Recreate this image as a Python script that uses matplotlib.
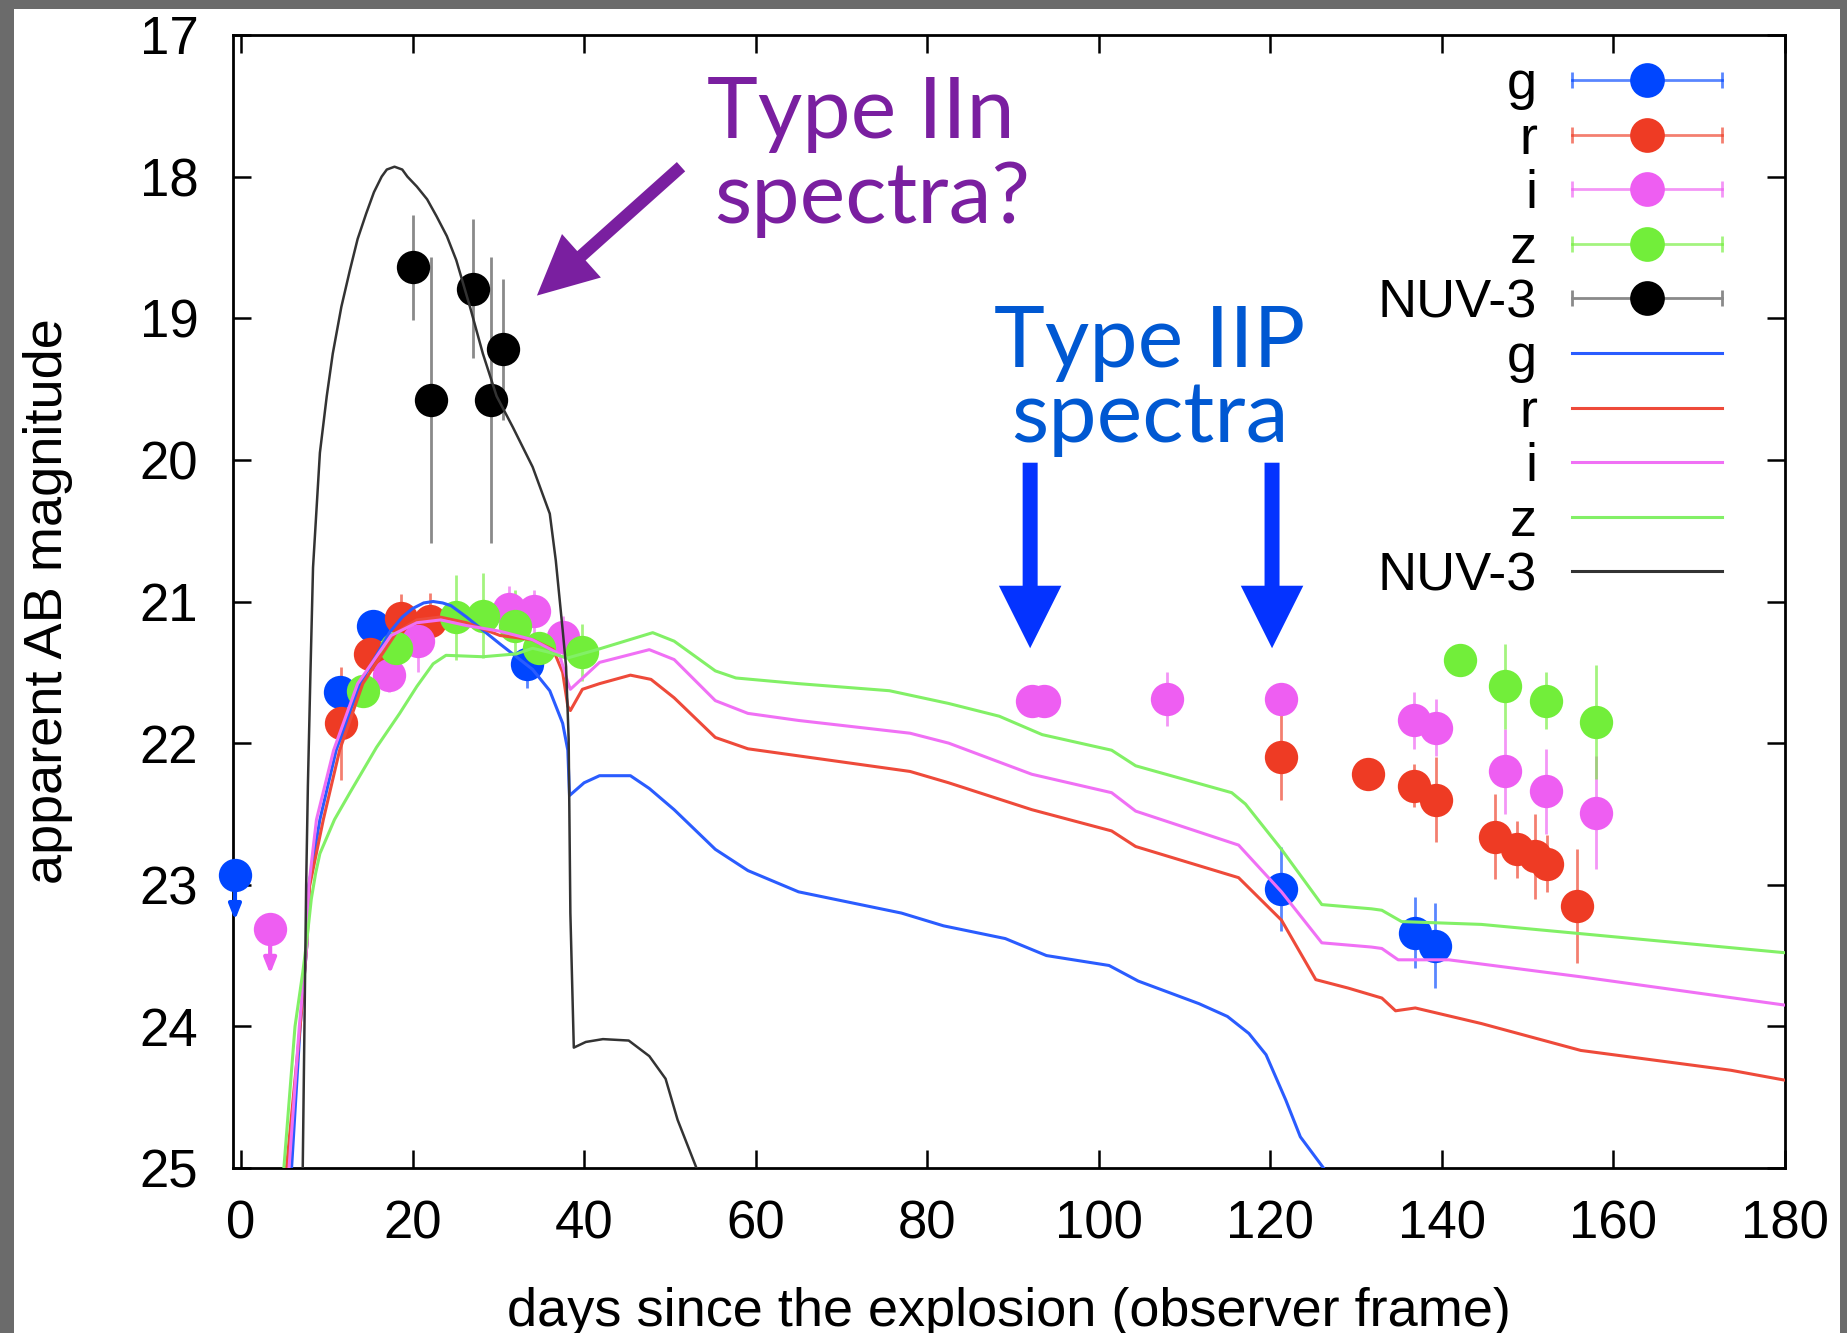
import matplotlib.pyplot as plt
from matplotlib.colors import to_rgba
from matplotlib.lines import Line2D
from matplotlib.patches import Rectangle
from matplotlib.legend_handler import HandlerLine2D

# ---- observed photometry: days since explosion, AB magnitude, 1-sigma error ----
g_day = [11.5, 15.4, 33.4, 121.3, 136.9, 139.2]
g_mag = [21.64, 21.17, 21.44, 23.03, 23.34, 23.43]
g_err = [0.0, 0.0, 0.17, 0.30, 0.25, 0.30]

r_day = [11.7, 15.0, 18.7, 22.0, 121.3, 131.4, 136.8, 139.3, 146.2, 148.7, 150.9, 152.2, 155.8]
r_mag = [21.86, 21.37, 21.12, 21.14, 22.10, 22.22, 22.30, 22.40, 22.66, 22.75, 22.80, 22.85, 23.15]
r_err = [0.40, 0.0, 0.17, 0.20, 0.30, 0.0, 0.15, 0.30, 0.30, 0.20, 0.30, 0.20, 0.40]

i_day = [17.2, 20.6, 31.3, 34.2, 37.5, 92.2, 93.6, 107.9, 121.3, 136.8, 139.3, 147.4, 152.1, 158.0]
i_mag = [21.52, 21.28, 21.05, 21.07, 21.25, 21.70, 21.70, 21.69, 21.69, 21.84, 21.89, 22.20, 22.34, 22.49]
i_err = [0.12, 0.22, 0.16, 0.15, 0.15, 0.0, 0.0, 0.19, 0.0, 0.20, 0.20, 0.30, 0.30, 0.40]

z_day = [14.2, 18.1, 25.1, 28.2, 31.9, 34.8, 39.7, 142.1, 147.4, 152.1, 158.0]
z_mag = [21.63, 21.33, 21.11, 21.10, 21.17, 21.33, 21.36, 21.41, 21.60, 21.70, 21.85]
z_err = [0.0, 0.0, 0.30, 0.30, 0.25, 0.0, 0.20, 0.0, 0.30, 0.20, 0.40]

nuv_day = [20.1, 22.1, 27.0, 29.1, 30.6]
nuv_mag = [18.64, 19.58, 18.79, 19.58, 19.22]
nuv_err = [0.37, 1.01, 0.49, 1.01, 0.50]

# upper limits (g and i before the explosion rise)
lim_band = ['g', 'i']
lim_day = [-0.7, 3.4]
lim_mag = [22.93, 23.31]

# ---- model light curves ----
g_mod_day = [5.9, 6.9, 7.7, 7.9, 9.2, 11.1, 13.9, 17.3, 18.8, 20.0, 21.3, 22.4, 23.5, 24.5, 26.3,
             30.2, 34.0, 36.0, 37.5, 38.1, 38.3, 40.0, 41.8, 45.4, 47.6, 50.5, 55.3, 59.1, 65.0,
             77.0, 81.9, 89.1, 93.9, 101.2, 104.6, 111.7, 115.0, 117.5, 119.5, 121.8, 123.5, 126.2]
g_mod_mag = [25.0, 24.0, 23.41, 23.01, 22.54, 22.05, 21.58, 21.22, 21.11, 21.05, 21.01, 21.00, 21.01,
             21.03, 21.11, 21.30, 21.48, 21.63, 21.86, 22.05, 22.37, 22.28, 22.23, 22.23, 22.32,
             22.47, 22.75, 22.90, 23.05, 23.20, 23.29, 23.38, 23.50, 23.57, 23.68, 23.84, 23.93,
             24.05, 24.20, 24.52, 24.78, 25.0]

r_mod_day = [5.3, 6.9, 7.7, 8.0, 9.6, 11.5, 14.2, 18.1, 20.5, 23.2, 26.3, 30.2, 34.0, 36.4, 37.5,
             38.1, 38.4, 39.8, 41.8, 45.4, 47.8, 50.5, 55.3, 59.1, 65.0, 78.0, 82.5, 92.2, 101.5,
             104.3, 116.3, 121.3, 125.3, 129.1, 133.0, 134.6, 136.9, 144.6, 156.2, 173.7, 180.0]
r_mod_mag = [25.0, 24.0, 23.41, 23.01, 22.54, 22.05, 21.58, 21.22, 21.13, 21.11, 21.15, 21.24, 21.27,
             21.34, 21.50, 21.74, 21.77, 21.62, 21.58, 21.52, 21.55, 21.68, 21.96, 22.04, 22.09,
             22.20, 22.28, 22.47, 22.62, 22.73, 22.95, 23.25, 23.67, 23.73, 23.80, 23.89, 23.87,
             23.98, 24.17, 24.31, 24.38]

i_mod_day = [5.6, 6.8, 7.7, 7.9, 8.8, 10.8, 13.6, 17.5, 20.5, 23.3, 26.3, 30.2, 34.0, 37.1, 38.1,
             38.4, 41.8, 47.6, 50.5, 55.3, 59.1, 65.0, 78.0, 82.5, 92.2, 101.5, 104.3, 116.3, 121.3,
             126.0, 131.8, 133.0, 134.9, 140.8, 156.2, 180.0]
i_mod_mag = [25.0, 24.0, 23.41, 23.01, 22.54, 22.05, 21.58, 21.24, 21.15, 21.13, 21.17, 21.21, 21.27,
             21.37, 21.57, 21.62, 21.43, 21.34, 21.41, 21.70, 21.79, 21.84, 21.93, 22.00, 22.22,
             22.35, 22.48, 22.72, 23.05, 23.41, 23.44, 23.45, 23.53, 23.53, 23.65, 23.85]

z_mod_day = [5.0, 6.3, 7.2, 7.7, 8.2, 8.7, 9.2, 10.9, 12.7, 15.8, 18.5, 20.5, 22.4, 23.9, 28.2,
             32.1, 34.0, 36.0, 38.0, 41.5, 48.0, 50.5, 55.3, 57.7, 65.0, 75.6, 82.5, 88.4, 93.4,
             101.5, 104.3, 115.5, 117.1, 121.3, 126.0, 131.8, 133.0, 135.3, 144.6, 180.0]
z_mod_mag = [25.0, 24.0, 23.62, 23.38, 23.10, 22.92, 22.78, 22.54, 22.35, 22.03, 21.79, 21.60, 21.44,
             21.38, 21.39, 21.37, 21.33, 21.36, 21.40, 21.34, 21.22, 21.28, 21.49, 21.54, 21.58,
             21.63, 21.72, 21.81, 21.94, 22.05, 22.16, 22.35, 22.43, 22.75, 23.14, 23.17, 23.18,
             23.26, 23.28, 23.48]

nuv_mod_day = [7.2, 7.4, 7.6, 7.8, 8.1, 8.4, 9.2, 10.0, 10.7, 11.7, 12.7, 13.6, 14.6, 15.5, 16.4,
               17.0, 17.9, 18.8, 19.4, 20.5, 21.7, 22.8, 24.0, 25.1, 26.7, 28.2, 29.8, 31.7, 34.0,
               36.0, 36.7, 37.5, 37.9, 38.2, 38.4, 38.8, 40.2, 42.2, 45.2, 47.6, 49.5, 50.9, 53.1]
nuv_mod_mag = [25.0, 24.0, 23.0, 22.3, 21.5, 20.76, 19.95, 19.55, 19.25, 18.92, 18.66, 18.44, 18.26,
               18.11, 18.0, 17.95, 17.93, 17.95, 18.0, 18.07, 18.16, 18.28, 18.42, 18.59, 18.92,
               19.25, 19.55, 19.77, 20.05, 20.38, 20.71, 21.2, 21.46, 21.97, 23.2, 24.15, 24.11,
               24.09, 24.10, 24.21, 24.37, 24.66, 25.0]

labels = ['g', 'r', 'i', 'z', 'NUV-3']
dot_colors = {'g': '#0046FF', 'r': '#EE3B24', 'i': '#EE5EF2', 'z': '#72EE3A', 'NUV-3': '#000000'}
line_colors = {'g': '#2A5CFF', 'r': '#EE4A3A', 'i': '#F070F5', 'z': '#82F066', 'NUV-3': '#333333'}

PURPLE = '#7A1FA0'
BLUE_TXT = '#0058D2'
BLUE_ARROW = '#0433FF'

plt.rcParams['font.family'] = ['Liberation Sans', 'DejaVu Sans']

fig = plt.figure(figsize=(18.47, 13.33), dpi=100, facecolor='#6b6b6b')
# white slide panel behind the plot
fig.patches.append(Rectangle((14 / 1847, 0), 1826 / 1847, 1324 / 1333, transform=fig.transFigure,
                             facecolor='white', edgecolor='none', zorder=-10))
ax = fig.add_axes([233 / 1847, 165 / 1333, 1552 / 1847, 1133 / 1333])
ax.set_facecolor('none')
ax.set_xlim(-0.93, 180)
ax.set_ylim(25, 17)

# data points with error bars
obs = {'g': (g_day, g_mag, g_err), 'r': (r_day, r_mag, r_err), 'i': (i_day, i_mag, i_err),
       'z': (z_day, z_mag, z_err), 'NUV-3': (nuv_day, nuv_mag, nuv_err)}
err_colors = {}
for band in labels:
    day, mag, err = obs[band]
    col = dot_colors[band]
    ecol = '#8a8a8a' if band == 'NUV-3' else to_rgba(col, 0.65)
    err_colors[band] = ecol
    ax.errorbar(day, mag, yerr=err, fmt='o', ms=24, mfc=col, mec=col, mew=0,
                ecolor=ecol, elinewidth=2, capsize=6, capthick=2, zorder=3)

# upper limits
for band, d, m in zip(lim_band, lim_day, lim_mag):
    col = dot_colors[band]
    ax.plot(d, m, 'o', ms=24, color=col, mew=0, zorder=3, clip_on=False)
    ax.annotate('', xy=(d, m + 0.32), xytext=(d, m),
                arrowprops=dict(arrowstyle='-|>,head_length=0.9,head_width=0.36', color=col,
                                lw=3, shrinkA=0, shrinkB=0), zorder=3)

# model curves
models = {'g': (g_mod_day, g_mod_mag), 'r': (r_mod_day, r_mod_mag), 'i': (i_mod_day, i_mod_mag),
          'z': (z_mod_day, z_mod_mag), 'NUV-3': (nuv_mod_day, nuv_mod_mag)}
for band in labels:
    d, m = models[band]
    ax.plot(d, m, color=line_colors[band], lw=1.8 if band == 'NUV-3' else 2.2, zorder=4)

# axes styling
ax.set_xticks(range(0, 181, 20))
ax.set_yticks(range(17, 26))
ax.tick_params(direction='in', length=13, width=1.8, top=True, right=True, labelsize=38)
ax.tick_params(axis='y', pad=25)
ax.tick_params(axis='x', pad=23)
for s in ax.spines.values():
    s.set_linewidth(2.0)
ax.set_xlabel('days since the explosion (observer frame)', fontsize=39)
ax.set_ylabel('apparent AB magnitude', fontsize=39)
ax.xaxis.set_label_coords(0.5, -0.105)
ax.yaxis.set_label_coords(-0.103, 0.5)

# legend: labels on the left, samples on the right
handles, hmap = [], {}
for band in labels:
    bar = Line2D([], [], color=err_colors[band], lw=2, marker='|', ms=12, mew=2)
    dot = Line2D([], [], ls='none', marker='o', ms=25, mew=0, color=dot_colors[band])
    handles.append((bar, dot))
    hmap[bar] = HandlerLine2D(numpoints=2, marker_pad=0)
    hmap[dot] = HandlerLine2D(numpoints=1)
for band in labels:
    handles.append(Line2D([], [], color=line_colors[band], lw=2.2))
ax.legend(handles, labels + labels, handler_map=hmap, loc='upper right',
          bbox_to_anchor=(0.9594, 0.978), frameon=False, markerfirst=False, fontsize=39,
          handlelength=2.76, handletextpad=0.65, labelspacing=0.085, borderpad=0, borderaxespad=0)

# annotations
ax.annotate('', xy=(34.5, 18.84), xytext=(51.3, 17.93),
            arrowprops=dict(arrowstyle='simple,head_length=2.15,head_width=2.1,tail_width=0.45',
                            fc=PURPLE, ec='none', mutation_scale=20, shrinkA=0, shrinkB=0), zorder=5)
ax.text(54.3, 17.727, 'Type IIn', color=PURPLE, fontsize=62, family='Lato', ha='left', va='baseline')
ax.text(55.2, 18.328, 'spectra?', color=PURPLE, fontsize=62, family='Lato', ha='left', va='baseline')

for xa in [92.0, 120.2]:
    ax.annotate('', xy=(xa, 21.33), xytext=(xa, 20.02),
                arrowprops=dict(arrowstyle='simple,head_length=2.25,head_width=2.25,tail_width=0.54',
                                fc=BLUE_ARROW, ec='none', mutation_scale=20, shrinkA=0, shrinkB=0),
                zorder=5)
ax.text(105.9, 19.345, 'Type IIP', color=BLUE_TXT, fontsize=62, family='Lato', ha='center', va='baseline')
ax.text(106.0, 19.874, 'spectra', color=BLUE_TXT, fontsize=62, family='Lato', ha='center', va='baseline')

fig.savefig('out.png', dpi=100, facecolor=fig.get_facecolor())
